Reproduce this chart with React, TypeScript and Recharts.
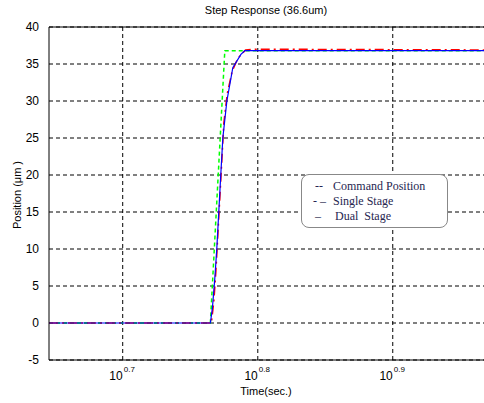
import React from 'react';
import {
  LineChart,
  Line,
  XAxis,
  YAxis,
  CartesianGrid,
  ReferenceLine,
} from 'recharts';

// time axis (sec.), log scale
const X_TICKS = [5.012, 6.31, 7.943];
const X_TICK_EXP = ['0.7', '0.8', '0.9'];
const Y_TICKS = [-5, 0, 5, 10, 15, 20, 25, 30, 35, 40];

// command position
const commandTime = [4.42, 5.82, 5.965, 9.28];
const commandPos = [0, 0, 36.8, 36.8];

// single stage
const singleTime = [4.42, 5.83, 5.855, 5.875, 5.895, 5.915, 5.935, 5.955, 5.99, 6.04, 6.1, 6.18, 6.3, 9.28];
const singlePos = [0, 0, 3, 7, 12, 17, 22, 27, 31, 34, 35.8, 36.9, 37.0, 36.9];

// dual stage
const dualTime = [4.42, 5.82, 5.84, 5.864, 5.884, 5.904, 5.924, 5.945, 5.986, 6.047, 6.131, 6.173, 9.28];
const dualPos = [0, 0, 2, 6, 10, 15, 20, 25, 30, 34.5, 36.3, 36.8, 36.8];

const toRows = (t: number[], v: number[]) => t.map((x, i) => ({ t: x, v: v[i] }));

const FONT = 'Arial, "Liberation Sans", sans-serif';

const XTick = (props: any) => {
  const { x, y, index } = props;
  return (
    <g>
      <text x={x} y={y + 12} textAnchor="end" fontSize={12} fontFamily={FONT} fill="#000">10</text>
      <text x={x + 1} y={y + 4} textAnchor="start" fontSize={8} fontFamily={FONT} fill="#000">
        {X_TICK_EXP[index]}
      </text>
    </g>
  );
};

const YTick = (props: any) => {
  const { x, y, payload } = props;
  return (
    <text x={x - 2} y={y + 4} textAnchor="end" fontSize={12} fontFamily={FONT} fill="#000">
      {payload.value}
    </text>
  );
};

export default function App() {
  return (
    <div style={{ position: 'absolute', left: 0, top: 0, width: 484, height: 403, background: '#fff' }}>
      <div
        style={{
          position: 'absolute', left: 0, top: 4, width: 532, textAlign: 'center',
          fontFamily: FONT, fontSize: 11, color: '#000',
        }}
      >
        Step Response (36.6um)
      </div>
      <div
        style={{
          position: 'absolute', left: 17, top: 195, transform: 'translate(-50%, -50%) rotate(-90deg)',
          fontFamily: FONT, fontSize: 11, color: '#000', whiteSpace: 'nowrap',
        }}
      >
        Position (μm )
      </div>
      <div
        style={{
          position: 'absolute', left: 0, top: 385, width: 532, textAlign: 'center',
          fontFamily: FONT, fontSize: 11, color: '#000',
        }}
      >
        Time(sec.)
      </div>
      <LineChart width={484} height={403} margin={{ top: 27, right: 0, left: 0, bottom: 0 }}>
        <CartesianGrid
          stroke="#000"
          strokeDasharray="4 3"
          horizontalValues={Y_TICKS}
          verticalValues={X_TICKS}
        />
        <XAxis
          dataKey="t"
          type="number"
          scale="log"
          domain={[4.42, 9.28]}
          allowDataOverflow
          ticks={X_TICKS}
          tick={<XTick />}
          tickLine={false}
          axisLine={{ stroke: '#000' }}
          height={43}
        />
        <YAxis
          dataKey="v"
          type="number"
          domain={[-5, 40]}
          ticks={Y_TICKS}
          tick={<YTick />}
          tickLine={false}
          axisLine={{ stroke: '#000' }}
          width={49}
          allowDataOverflow
        />
        <ReferenceLine y={40} stroke="#000" strokeDasharray="0" />
        <Line
          data={toRows(commandTime, commandPos)}
          dataKey="v"
          type="linear"
          stroke="#00ff00"
          strokeWidth={1.5}
          strokeDasharray="4 3"
          dot={false}
          isAnimationActive={false}
        />
        <Line
          data={toRows(singleTime, singlePos)}
          dataKey="v"
          type="linear"
          stroke="#ff0000"
          strokeWidth={1.5}
          strokeDasharray="9 4 2 4"
          dot={false}
          isAnimationActive={false}
        />
        <Line
          data={toRows(dualTime, dualPos)}
          dataKey="v"
          type="linear"
          stroke="#0000ff"
          strokeWidth={1.2}
          dot={false}
          isAnimationActive={false}
        />
      </LineChart>
      <div
        style={{
          position: 'absolute', left: 301, top: 174, width: 147, height: 54,
          border: '1px solid #888', borderRadius: 8, background: '#fff',
          fontFamily: '"Liberation Serif", "Times New Roman", serif', fontSize: 12, color: '#262650',
          lineHeight: '15px', paddingTop: 4, boxSizing: 'border-box',
        }}
      >
        <div style={{ display: 'flex' }}>
          <span style={{ width: 31, paddingLeft: 13, boxSizing: 'border-box' }}>--</span>
          <span>Command Position</span>
        </div>
        <div style={{ display: 'flex' }}>
          <span style={{ width: 31, paddingLeft: 11, boxSizing: 'border-box' }}>- –</span>
          <span>Single Stage</span>
        </div>
        <div style={{ display: 'flex' }}>
          <span style={{ width: 33, paddingLeft: 13, boxSizing: 'border-box' }}>–</span>
          <span>Dual&nbsp; Stage</span>
        </div>
      </div>
    </div>
  );
}
